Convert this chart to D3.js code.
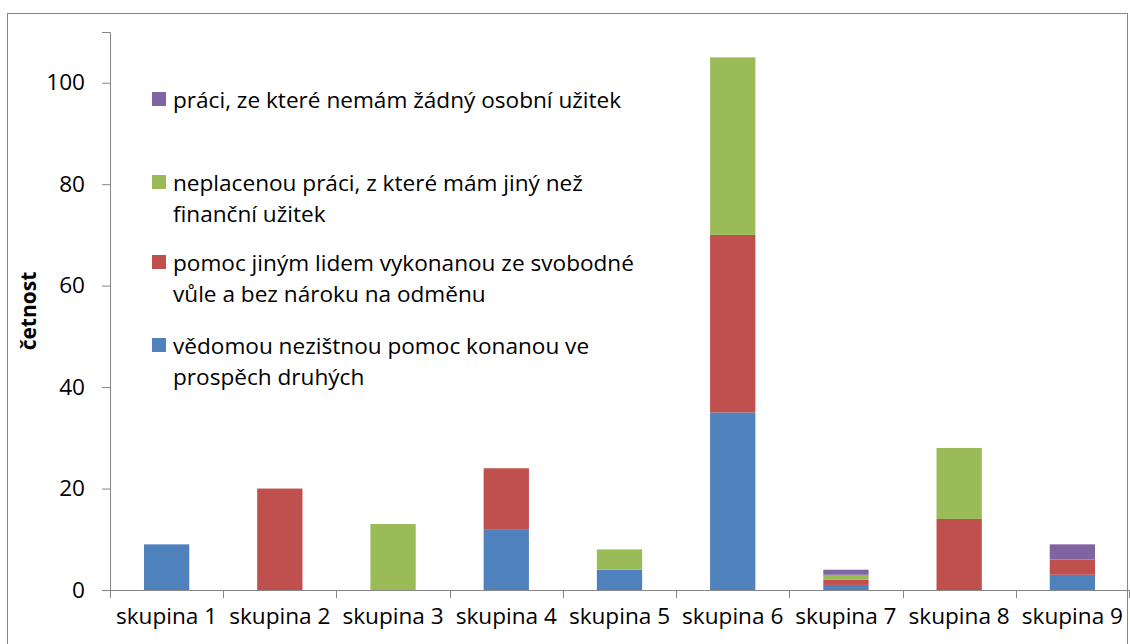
<!DOCTYPE html>
<html>
<head>
<meta charset="utf-8">
<script src="https://cdn.jsdelivr.net/npm/d3@7"></script>
<style>
  body { margin: 0; background: #fff; }
  text { font-family: "Open Sans", Lato, sans-serif; fill: #000; }
</style>
</head>
<body>
<div id="graphic"></div>
<script>
var width = 1130, height = 644;
var fontSize = "22.6px";

// data
var groups = ["skupina 1","skupina 2","skupina 3","skupina 4","skupina 5","skupina 6","skupina 7","skupina 8","skupina 9"];
var seriesNames = [
  "vědomou nezištnou pomoc konanou ve prospěch druhých",
  "pomoc jiným lidem vykonanou ze svobodné vůle a bez nároku na odměnu",
  "neplacenou práci, z které mám jiný než finanční užitek",
  "práci, ze které nemám žádný osobní užitek"
];
var blue   = [9, 0, 0, 12, 4, 35, 1, 0, 3];
var red    = [0, 20, 0, 12, 0, 35, 1, 14, 3];
var green  = [0, 0, 13, 0, 4, 35, 1, 14, 0];
var purple = [0, 0, 0, 0, 0, 0, 1, 0, 3];
var colors = ["#4F81BD", "#C0504D", "#9BBB59", "#8064A2"];
var yTicks = [0, 20, 40, 60, 80, 100];

var margin = {left: 110, right: 1, top: 32, bottom: 54};

var svg = d3.select("#graphic").append("svg")
  .attr("width", width)
  .attr("height", height);

// outer frame
svg.append("rect")
  .attr("x", 7.5).attr("y", 13.5)
  .attr("width", 1120).attr("height", 640)
  .attr("fill", "#fff")
  .attr("stroke", "#868686").attr("stroke-width", 1);

var x = d3.scaleBand()
  .domain(groups)
  .range([margin.left, width - margin.right])
  .paddingInner(0.6).paddingOuter(0.3);

var y = d3.scaleLinear()
  .domain([0, 110])
  .range([height - margin.bottom, margin.top]);

var table = groups.map(function(g, i) {
  return {group: g, s0: blue[i], s1: red[i], s2: green[i], s3: purple[i]};
});
var stack = d3.stack().keys(["s0","s1","s2","s3"]);
var layers = stack(table);

svg.append("g").selectAll("g")
  .data(layers)
  .enter().append("g")
  .attr("fill", function(d, i) { return colors[i]; })
  .selectAll("rect")
  .data(function(d) { return d; })
  .enter().append("rect")
  .attr("x", function(d) { return x(d.data.group); })
  .attr("width", x.bandwidth())
  .attr("y", function(d) { return y(d[1]); })
  .attr("height", function(d) { return y(d[0]) - y(d[1]); });

// y axis
var yAxis = svg.append("g")
  .attr("transform", "translate(" + margin.left + ",0)")
  .call(d3.axisLeft(y).tickValues(yTicks).tickSize(8).tickPadding(17));
yAxis.select(".domain").attr("stroke", "#868686");
yAxis.selectAll(".tick line").attr("stroke", "#868686");
yAxis.selectAll("text").style("font-size", fontSize).attr("fill", "#000");

// x axis, ticks between categories
var step = x.step();
var bounds = d3.range(groups.length + 1).map(function(i) { return margin.left + i * step; });
var xg = svg.append("g");
xg.append("line")
  .attr("x1", margin.left).attr("x2", width - margin.right)
  .attr("y1", y(0) + 0.5).attr("y2", y(0) + 0.5)
  .attr("stroke", "#868686");
xg.selectAll("line.tk")
  .data(bounds)
  .enter().append("line")
  .attr("class", "tk")
  .attr("x1", function(d) { return Math.round(d) + 0.5; })
  .attr("x2", function(d) { return Math.round(d) + 0.5; })
  .attr("y1", y(0)).attr("y2", y(0) + 8)
  .attr("stroke", "#868686");
xg.selectAll("text")
  .data(groups)
  .enter().append("text")
  .attr("x", function(d) { return x(d) + x.bandwidth() / 2; })
  .attr("y", y(0) + 34)
  .attr("text-anchor", "middle")
  .style("font-size", fontSize)
  .text(function(d) { return d; });

// y title
svg.append("text")
  .attr("transform", "translate(36," + y(55) + ") rotate(-90)")
  .attr("text-anchor", "middle")
  .style("font-size", "21px")
  .style("font-weight", "bold")
  .text("četnost");

// legend
var legendItems = [
  {i: 3, y: 100, lines: ["práci, ze které nemám žádný osobní užitek"]},
  {i: 2, y: 183, lines: ["neplacenou práci, z které mám jiný než", "finanční užitek"]},
  {i: 1, y: 263, lines: ["pomoc jiným lidem vykonanou ze svobodné", "vůle a bez nároku na odměnu"]},
  {i: 0, y: 346, lines: ["vědomou nezištnou pomoc konanou ve", "prospěch druhých"]}
];
var legend = svg.append("g").attr("class", "legend");
legendItems.forEach(function(item) {
  legend.append("rect")
    .attr("x", 152).attr("y", item.y - 8)
    .attr("width", 14).attr("height", 14)
    .attr("fill", colors[item.i]);
  var t = legend.append("text")
    .attr("x", 173).attr("y", item.y + 8)
    .style("font-size", fontSize);
  item.lines.forEach(function(l, k) {
    t.append("tspan").attr("x", 173).attr("dy", k === 0 ? 0 : 31).text(l);
  });
});
</script>
</body>
</html>
